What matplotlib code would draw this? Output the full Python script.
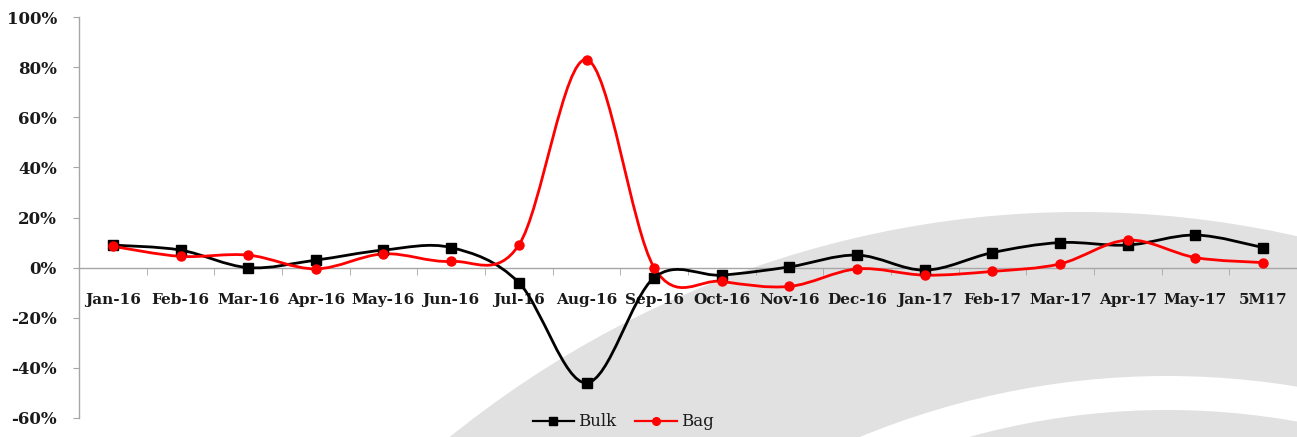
import numpy as np
import matplotlib
matplotlib.use("Agg")
import matplotlib.pyplot as plt
from matplotlib.path import Path
from matplotlib.patches import PathPatch, Ellipse

# ---- data -------------------------------------------------------------
months = ["Jan-16", "Feb-16", "Mar-16", "Apr-16", "May-16", "Jun-16",
          "Jul-16", "Aug-16", "Sep-16", "Oct-16", "Nov-16", "Dec-16",
          "Jan-17", "Feb-17", "Mar-17", "Apr-17", "May-17", "5M17"]
bulk = [9, 7, 0, 3, 7, 8, -6, -46, -4, -3, 0.3, 5, -1, 6, 10, 9, 13, 8]
bag = [8.5, 4.5, 5, -0.5, 5.5, 2.5, 9, 83, 0, -5.5, -7.5, -0.5, -3, -1.5, 1.5, 11, 4, 2]
y_ticks = [-60, -40, -20, 0, 20, 40, 60, 80, 100]

W, H, DPI = 1297, 437, 100
fig = plt.figure(figsize=(W / DPI, H / DPI), dpi=DPI)
fig.patch.set_facecolor("white")

# ---- decorative background swoosh (figure pixel space) ---------------
bg = fig.add_axes([0, 0, 1, 1], zorder=0)
bg.set_xlim(0, W)
bg.set_ylim(H, 0)
bg.axis("off")
grey = "#e1e1e1"
bg.add_patch(Ellipse((1080, 1300), 2 * 1035, 2 * 1088, facecolor=grey, edgecolor="none"))
bg.add_patch(Ellipse((1167, 1300), 2 * 860, 2 * 924, facecolor="white", edgecolor="none"))
bg.add_patch(Ellipse((1167, 1300), 2 * 810, 2 * 890, facecolor=grey, edgecolor="none"))

# ---- main chart -------------------------------------------------------
left, right = 79 / W, 1297 / W
top, bottom = 1 - 17 / H, 1 - 418 / H
ax = fig.add_axes([left, bottom, right - left, top - bottom], zorder=1)
ax.set_facecolor("none")

x = np.arange(len(months))
ax.set_xlim(-0.5, len(months) - 0.5)
ax.set_ylim(-60, 100)


def smooth_path(xs, ys, k=1.0 / 6.0):
    """Catmull-Rom style cubic Bezier through every point."""
    pts = np.column_stack([xs, ys]).astype(float)
    n = len(pts)
    verts = [pts[0]]
    codes = [Path.MOVETO]
    for i in range(n - 1):
        p0 = pts[i - 1] if i > 0 else pts[i]
        p1 = pts[i]
        p2 = pts[i + 1]
        p3 = pts[i + 2] if i + 2 < n else pts[i + 1]
        c1 = p1 + (p2 - p0) * k
        c2 = p2 - (p3 - p1) * k
        verts += [c1, c2, p2]
        codes += [Path.CURVE4] * 3
    return Path(verts, codes)


series = [
    ("Bulk", bulk, "black", "s", 6.5),
    ("Bag", bag, "#ff0000", "o", 6.5),
]
for name, vals, col, mk, ms in series:
    ax.add_patch(PathPatch(smooth_path(x, vals), facecolor="none",
                           edgecolor=col, lw=2.0, zorder=3))
    ax.plot(x, vals, linestyle="none", marker=mk, color=col,
            markersize=ms, zorder=4)
    ax.plot([], [], color=col, lw=1.6, marker=mk, markersize=5.5, label=name)

# axes styling
axis_col = "#a6a6a6"
for s in ["top", "right"]:
    ax.spines[s].set_visible(False)
ax.spines["left"].set_color(axis_col)
ax.spines["bottom"].set_color(axis_col)
ax.spines["bottom"].set_position(("data", 0))
ax.spines["bottom"].set_linewidth(1.0)
ax.spines["left"].set_linewidth(1.0)

ax.set_yticks(y_ticks)
ax.set_yticklabels([f"{v}%" for v in y_ticks])
ax.tick_params(axis="y", direction="out", length=4, color=axis_col,
               pad=12, labelsize=12, labelcolor="#1a1a1a")

ax.set_xticks(x)
ax.set_xticklabels(months)
ax.set_xticks(np.arange(len(months) + 1) - 0.5, minor=True)
ax.tick_params(axis="x", which="major", length=0, pad=18,
               labelsize=11, labelcolor="#1a1a1a")
ax.tick_params(axis="x", which="minor", direction="out", length=5,
               color=axis_col)

for lab in ax.get_xticklabels() + ax.get_yticklabels():
    lab.set_family("DejaVu Serif")
    lab.set_fontweight("bold")

leg = fig.legend(loc="center", bbox_to_anchor=(623 / W, 1 - 422 / H),
                 ncol=2, frameon=False, handlelength=2.5, columnspacing=1.1,
                 handletextpad=0.25,
                 prop={"family": "DejaVu Serif", "size": 12})
for t in leg.get_texts():
    t.set_color("#1a1a1a")

fig.savefig("out.png", dpi=DPI)
